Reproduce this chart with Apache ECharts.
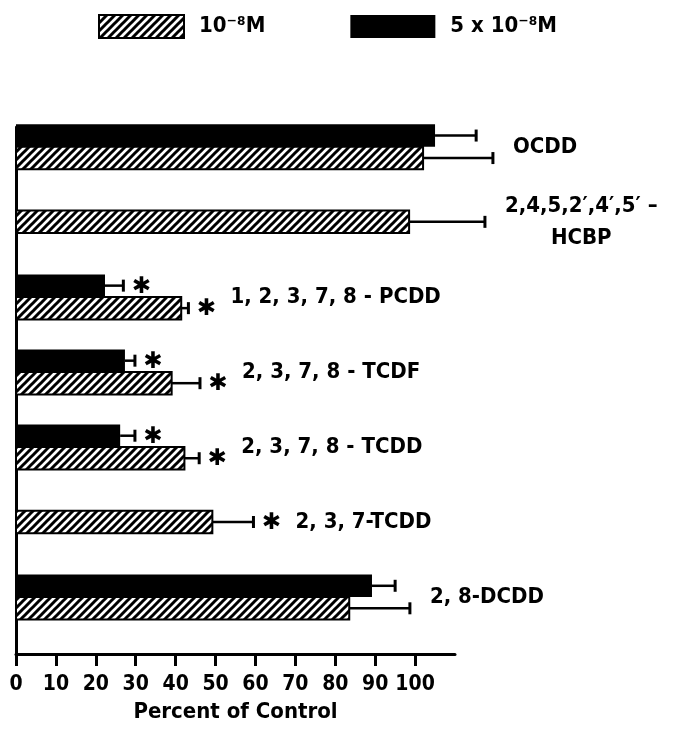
<!DOCTYPE html>
<html>
<head>
<meta charset="utf-8">
<script src="https://cdn.jsdelivr.net/npm/echarts@6/dist/echarts.min.js"></script>
<style>
  html, body { margin: 0; padding: 0; background: #fff; }
  #chart { width: 678px; height: 730px; }
</style>
</head>
<body>
<div id="chart"></div>
<script>
// compounds, top to bottom
const categories = [
  'OCDD',
  '2,4,5,2\u2032,4\u2032,5\u2032 \u2013\nHCBP',
  '1, 2, 3, 7, 8 - PCDD',
  '2, 3, 7, 8 - TCDF',
  '2, 3, 7, 8 - TCDD',
  '2, 3, 7-TCDD',
  '2, 8-DCDD'
]
// 10^-8 M (hatched)
const lowDose = [102, 98.5, 41.4, 39, 42.2, 49.2, 83.5]
const lowErr = [17.5, 19, 1.8, 7.1, 3.7, 10.3, 15.2]
const lowSig = [0, 0, 1, 1, 1, 1, 0]
// 5 x 10^-8 M (solid)
const highDose = [105, null, 22.3, 27.3, 26.1, null, 89.2]
const highErr = [10.3, null, 4.6, 2.5, 3.7, null, 5.8]
const highSig = [0, 0, 1, 1, 1, 0, 0]
const tickValues = [0, 10, 20, 30, 40, 50, 60, 70, 80, 90, 100]

const FONT = '"DejaVu Sans Condensed", "DejaVu Sans", sans-serif'

// hatch fill
const pc = document.createElement('canvas')
pc.width = 8
pc.height = 8
const pctx = pc.getContext('2d')
pctx.fillStyle = '#fff'
pctx.fillRect(0, 0, 8, 8)
pctx.strokeStyle = '#000'
pctx.lineWidth = 3
pctx.beginPath()
pctx.moveTo(-2, 10); pctx.lineTo(10, -2)
pctx.moveTo(-2, 2); pctx.lineTo(2, -2)
pctx.moveTo(6, 10); pctx.lineTo(10, 6)
pctx.stroke()
const hatch = { image: pc, repeat: 'repeat' }

const measure = document.createElement('canvas').getContext('2d')
const labelFont = 'bold 22px ' + FONT

const isPair = i => lowDose[i] != null && highDose[i] != null

const barRenderer = (errs, sigs, upper, fill, stroke) => (params, api) => {
  const v = api.value(0)
  const i = api.value(1)
  const e = errs[i]
  const c = api.coord([0, i])
  const xEnd = api.coord([v, i])[0]
  const errX = api.coord([v + e, i])[0]
  const barH = api.size([0, 0.3])[1]
  const top = isPair(i) ? (upper ? c[1] - barH : c[1]) : c[1] - barH / 2
  const mid = top + barH / 2
  const children = [
    { type: 'line', shape: { x1: xEnd, y1: mid, x2: errX, y2: mid }, style: { stroke: '#000', lineWidth: 2.5 } },
    { type: 'line', shape: { x1: errX, y1: mid - 6, x2: errX, y2: mid + 6 }, style: { stroke: '#000', lineWidth: 3 } },
    { type: 'rect', shape: { x: c[0], y: top, width: xEnd - c[0], height: barH },
      style: { fill: fill, stroke: stroke, lineWidth: stroke ? 2 : 0 } }
  ]
  if (sigs[i]) {
    children.push({ type: 'text', style: { text: '\u2731', x: errX + 18, y: mid + 1, align: 'center',
      verticalAlign: 'middle', font: 'bold 23px "DejaVu Sans", sans-serif', fill: '#000' } })
  }
  return { type: 'group', children }
}

const labelRenderer = (params, api) => {
  const i = params.dataIndex
  const yc = api.coord([0, i])[1]
  let right = 0
  let star = false
  const ends = [[lowDose[i], lowErr[i], lowSig[i]], [highDose[i], highErr[i], highSig[i]]]
  ends.forEach(([v, e, s]) => {
    if (v == null) return
    const x = api.coord([v + e, i])[0] + (s ? 26 : 0)
    if (x > right) { right = x; star = !!s }
  })
  const start = right + (star ? 16 : 20)
  const text = categories[i]
  measure.font = labelFont
  const w = Math.max(...text.split('\n').map(t => measure.measureText(t).width))
  return {
    type: 'text',
    style: { text, x: start + w / 2, y: yc, align: 'center', verticalAlign: 'middle',
      font: labelFont, fill: '#000', lineHeight: 32 }
  }
}

const chart = echarts.init(document.getElementById('chart'), null, { renderer: 'canvas' })

chart.setOption({
  animation: false,
  backgroundColor: '#fff',
  legend: {
    left: 93,
    top: 9,
    itemWidth: 85,
    itemHeight: 23,
    itemGap: 85,
    textStyle: { fontFamily: FONT, fontWeight: 'bold', fontSize: 22, color: '#000', padding: [0, 0, 0, 10] },
    data: [
      { name: '10\u207B\u2078M', icon: 'rect', itemStyle: { color: hatch, borderColor: '#000', borderWidth: 2 } },
      { name: '5 x 10\u207B\u2078M', icon: 'rect', itemStyle: { color: '#000' } }
    ]
  },
  grid: { left: 16, right: 223, top: 127, bottom: 76 },
  xAxis: {
    type: 'value',
    min: 0,
    max: 110,
    interval: 10,
    name: 'Percent of Control',
    nameLocation: 'middle',
    nameGap: 47,
    nameTextStyle: { fontFamily: FONT, fontWeight: 'bold', fontSize: 22, color: '#000' },
    axisLine: { show: true, onZero: false, lineStyle: { color: '#000', width: 3 } },
    axisTick: { show: true, length: 12, customValues: tickValues, lineStyle: { color: '#000', width: 3 } },
    axisLabel: { customValues: tickValues, margin: 20, fontFamily: FONT, fontWeight: 'bold', fontSize: 21, color: '#000' },
    splitLine: { show: false }
  },
  yAxis: {
    type: 'value',
    inverse: true,
    min: -0.264,
    max: 6.759,
    axisLine: { show: true, onZero: false, lineStyle: { color: '#000', width: 3 } },
    axisTick: { show: false },
    axisLabel: { show: false },
    splitLine: { show: false }
  },
  series: [
    {
      name: '5 x 10\u207B\u2078M',
      type: 'custom',
      itemStyle: { color: '#000' },
      renderItem: barRenderer(highErr, highSig, true, '#000', null),
      data: highDose.map((v, i) => [v, i]).filter(d => d[0] != null)
    },
    {
      name: '10\u207B\u2078M',
      type: 'custom',
      itemStyle: { color: hatch, borderColor: '#000', borderWidth: 2 },
      renderItem: barRenderer(lowErr, lowSig, false, hatch, '#000'),
      data: lowDose.map((v, i) => [v, i]).filter(d => d[0] != null)
    },
    {
      type: 'custom',
      silent: true,
      renderItem: labelRenderer,
      data: categories.map((c, i) => [0, i])
    }
  ]
})
</script>
</body>
</html>
